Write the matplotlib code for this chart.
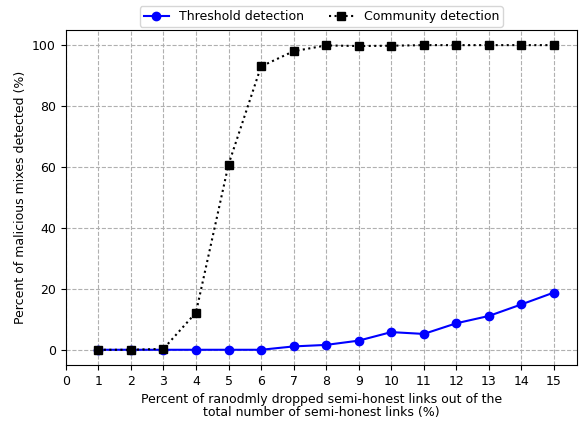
import matplotlib.pyplot as plt
import numpy as np

drop_pct = list(range(1, 16))
threshold = [0, 0, 0, 0, 0, 0, 1.1, 1.6, 3.0, 5.8, 5.2, 8.7, 11.1, 14.9, 18.8]
community = [0, 0, 0.3, 12.2, 60.8, 93.0, 98.0, 99.9, 99.7, 99.8, 100, 100, 100, 100, 100]

fig, ax = plt.subplots(figsize=(5.82, 4.21), dpi=100)

ax.plot(drop_pct, threshold, 'b-o', label='Threshold detection', markersize=6, linewidth=1.5)
ax.plot(drop_pct, community, 'k:s', label='Community detection', markersize=6, linewidth=1.5)

ax.set_xticks(range(0, 16))
ax.set_xlim(0, 15.7)
ax.set_ylim(-5, 105)
ax.set_yticks([0, 20, 40, 60, 80, 100])
ax.grid(True, linestyle='--', color='#b0b0b0', linewidth=0.8)
ax.set_xlabel('Percent of ranodmly dropped semi-honest links out of the\ntotal number of semi-honest links (%)', fontsize=9, linespacing=1.0)
ax.set_ylabel('Percent of malicious mixes detected (%)', fontsize=9)
ax.tick_params(labelsize=9)
ax.legend(loc='lower center', bbox_to_anchor=(0.5, 0.99), ncol=2, fontsize=9,
          borderpad=0.3, handlelength=2.0, columnspacing=2.0)

fig.subplots_adjust(left=0.113, right=0.991, top=0.929, bottom=0.133)
fig.savefig('out.png')
